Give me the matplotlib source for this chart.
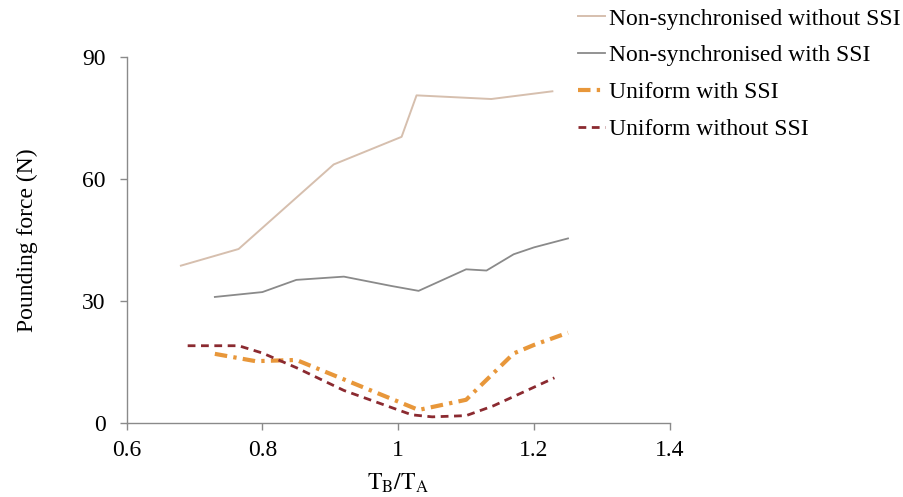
import numpy as np
import matplotlib.pyplot as plt
from matplotlib.ticker import FuncFormatter

plt.rcParams['font.family'] = 'Liberation Serif'
plt.rcParams['mathtext.fontset'] = 'stix'
plt.rcParams['font.size'] = 17

# period ratio T_B/T_A and peak pounding force (N) for each case
ratio_ns_wo = [0.68, 0.765, 0.905, 1.005, 1.027, 1.137, 1.227]
force_ns_wo = [38.7, 42.8, 63.6, 70.4, 80.6, 79.7, 81.6]

ratio_ns_w = [0.73, 0.80, 0.85, 0.92, 0.99, 1.03, 1.10, 1.13, 1.17, 1.20, 1.25]
force_ns_w = [31.0, 32.2, 35.2, 36.0, 33.7, 32.5, 37.8, 37.5, 41.5, 43.2, 45.4]

ratio_u_w = [0.73, 0.79, 0.85, 1.03, 1.10, 1.17, 1.20, 1.25]
force_u_w = [17.0, 15.2, 15.5, 3.2, 5.7, 17.1, 19.2, 22.2]

ratio_u_wo = [0.69, 0.765, 0.80, 0.85, 0.92, 1.02, 1.05, 1.10, 1.14, 1.23]
force_u_wo = [19.0, 19.0, 17.2, 13.6, 8.0, 2.0, 1.5, 1.8, 4.2, 11.1]

fig = plt.figure(figsize=(9.04, 4.97), dpi=100)
ax = fig.add_axes([0.140, 0.149, 0.601, 0.736])

ax.plot(ratio_ns_wo, force_ns_wo, color='#d6bfae', lw=1.4, label='Non-synchronised without SSI')
ax.plot(ratio_ns_w, force_ns_w, color='#8a8a8a', lw=1.3, label='Non-synchronised with SSI')
ax.plot(ratio_u_w, force_u_w, color='#e8973a', lw=3, dashes=(3, 1.5, 0.8, 1.5),
        label='Uniform with SSI')
ax.plot(ratio_u_wo, force_u_wo, color='#8b2a30', lw=2, dashes=(2.8, 2),
        label='Uniform without SSI')

ax.set_xlim(0.6, 1.4)
ax.set_ylim(0, 90)
ax.set_xticks([0.6, 0.8, 1.0, 1.2, 1.4])
ax.set_yticks([0, 30, 60, 90])
ax.xaxis.set_major_formatter(FuncFormatter(lambda v, p: f'{v:g}'))

for s in ['top', 'right']:
    ax.spines[s].set_visible(False)
for s in ['left', 'bottom']:
    ax.spines[s].set_color('#8a8a8a')
    ax.spines[s].set_linewidth(1.0)
ax.tick_params(direction='out', length=5, width=1.0, color='#8a8a8a', labelsize=17)
ax.tick_params(axis='y', pad=10)
ax.tick_params(axis='x', pad=7)

ax.set_xlabel(r'$\mathrm{T_B/T_A}$', fontsize=17, labelpad=8)
ax.set_ylabel('Pounding force (N)', fontsize=17, labelpad=32)

ax.legend(loc='upper left', bbox_to_anchor=(578 / 904, 1 - 8 / 497),
          bbox_transform=fig.transFigure, frameon=False, fontsize=17,
          handlelength=1.15, handletextpad=0.15, labelspacing=0.65,
          borderpad=0, borderaxespad=0)

fig.savefig('out.png', dpi=100)
